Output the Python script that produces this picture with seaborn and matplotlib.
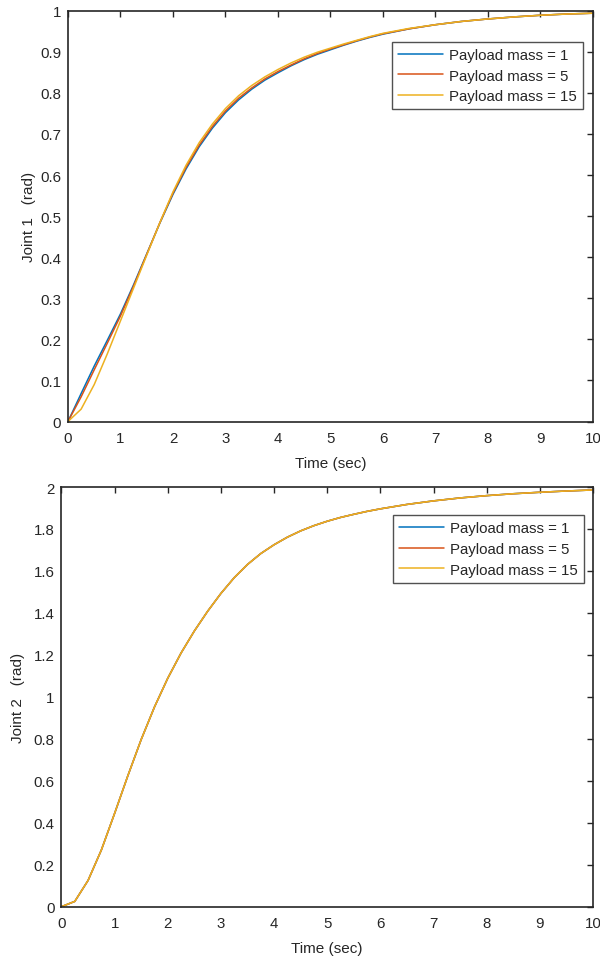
import seaborn as sns
import matplotlib.pyplot as plt
import pandas as pd

sns.set_style("white")
plt.rcParams["font.family"] = ["Liberation Sans", "DejaVu Sans"]

# values
time = [0, 0.25, 0.5, 0.75, 1, 1.25, 1.5, 1.75, 2, 2.25, 2.5, 2.75, 3,
        3.25, 3.5, 3.75, 4, 4.25, 4.5, 4.75, 5, 5.25, 5.5, 5.75, 6,
        6.5, 7, 7.5, 8, 8.5, 9, 9.5, 10]

joint1_m1 = [0, 0.068, 0.135, 0.198, 0.262, 0.333, 0.408, 0.483, 0.553,
             0.615, 0.669, 0.714, 0.752, 0.783, 0.809, 0.831, 0.849, 0.866,
             0.881, 0.894, 0.905, 0.916, 0.926, 0.935, 0.943,
             0.956, 0.966, 0.974, 0.98, 0.985, 0.989, 0.992, 0.994]
joint1_m5 = [0, 0.06, 0.126, 0.191, 0.257, 0.330, 0.407, 0.484, 0.556,
             0.619, 0.673, 0.718, 0.756, 0.787, 0.812, 0.834, 0.852, 0.868,
             0.883, 0.896, 0.907, 0.917, 0.927, 0.936, 0.944,
             0.956, 0.966, 0.974, 0.98, 0.985, 0.989, 0.992, 0.994]
joint1_m15 = [0, 0.03, 0.09, 0.165, 0.245, 0.325, 0.405, 0.484, 0.559,
              0.624, 0.679, 0.724, 0.762, 0.793, 0.818, 0.839, 0.857, 0.873,
              0.887, 0.899, 0.909, 0.919, 0.928, 0.937, 0.945,
              0.957, 0.966, 0.974, 0.98, 0.985, 0.989, 0.992, 0.994]

joint2_m1 = [0, 0.025, 0.125, 0.27, 0.445, 0.625, 0.797, 0.952, 1.089,
             1.209, 1.314, 1.408, 1.493, 1.568, 1.631, 1.683, 1.725, 1.761,
             1.791, 1.816, 1.837, 1.855, 1.870, 1.884, 1.896,
             1.917, 1.934, 1.948, 1.959, 1.968, 1.975, 1.981, 1.986]
joint2_m5 = joint2_m1
joint2_m15 = joint2_m1

labels = ["Payload mass = 1", "Payload mass = 5", "Payload mass = 15"]
colors = ["#0072BD", "#D95319", "#EDB120"]


def long_df(series):
    rows = []
    for lab, vals in zip(labels, series):
        for t, v in zip(time, vals):
            rows.append({"t": t, "y": v, "series": lab})
    return pd.DataFrame(rows)


fig = plt.figure(figsize=(6, 9.62), dpi=100)
ax1 = fig.add_axes([0.1133, 0.5608, 0.875, 0.4270])
ax2 = fig.add_axes([0.1025, 0.0565, 0.8858, 0.4362])

panels = [
    (ax1, [joint1_m1, joint1_m5, joint1_m15], 1,
     [0, 0.1, 0.2, 0.3, 0.4, 0.5, 0.6, 0.7, 0.8, 0.9, 1],
     ["0", "0.1", "0.2", "0.3", "0.4", "0.5", "0.6", "0.7", "0.8", "0.9", "1"],
     "Joint 1   (rad)", (0.981, 0.924), 3),
    (ax2, [joint2_m1, joint2_m5, joint2_m15], 2,
     [0, 0.2, 0.4, 0.6, 0.8, 1, 1.2, 1.4, 1.6, 1.8, 2],
     ["0", "0.2", "0.4", "0.6", "0.8", "1", "1.2", "1.4", "1.6", "1.8", "2"],
     "Joint 2   (rad)", (0.983, 0.933), 6),
]

for ax, series, ymax, yt, ytl, ylab, anchor, ypad in panels:
    df = long_df(series)
    sns.lineplot(data=df, x="t", y="y", hue="series", palette=colors,
                 linewidth=1.1, ax=ax)
    ax.set_xlim(0, 10)
    ax.set_ylim(0, ymax)
    ax.set_xticks(range(11))
    ax.set_xticklabels([str(i) for i in range(11)])
    ax.set_yticks(yt)
    ax.set_yticklabels(ytl)
    ax.tick_params(direction="in", length=4, width=1, colors="#262626",
                   labelsize=10.8, top=True, right=True)
    ax.tick_params(axis="x", pad=7)
    ax.tick_params(axis="y", pad=5)
    for s in ax.spines.values():
        s.set_color("#262626")
        s.set_linewidth(1.2)
    ax.set_xlabel("Time (sec)", fontsize=11, color="#262626", labelpad=8)
    ax.set_ylabel(ylab, fontsize=11, color="#262626", labelpad=ypad)
    leg = ax.legend(loc="upper right", bbox_to_anchor=anchor,
                    fontsize=10.8, frameon=True, fancybox=False,
                    handlelength=3.0, borderpad=0.4, labelspacing=0.45,
                    handletextpad=0.4, borderaxespad=0)
    leg.get_frame().set_edgecolor("#262626")
    leg.get_frame().set_linewidth(1.0)

fig.savefig("out.png", dpi=100)
plt.close(fig)
